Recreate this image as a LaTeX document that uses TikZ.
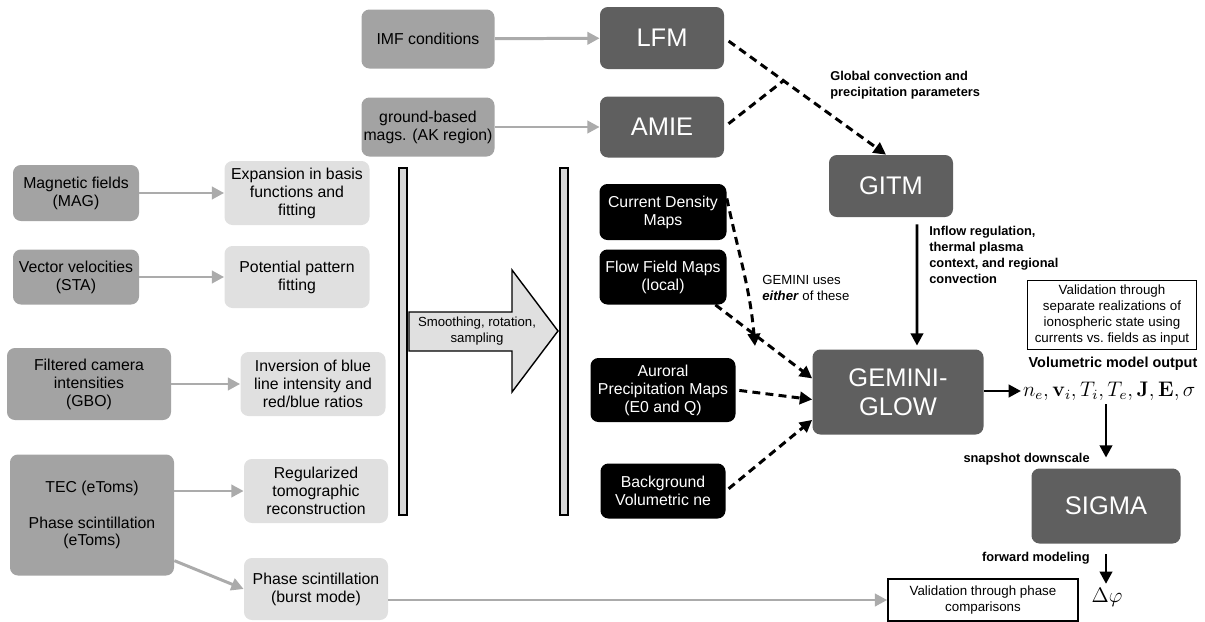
\documentclass[tikz,border=0pt]{standalone}
\usepackage[no-math]{fontspec}
\setmainfont{Liberation Sans}
\usepackage{amsmath}
\usepackage{tikz}
\usetikzlibrary{arrows.meta, calc, positioning}

\definecolor{srcgray}{HTML}{A3A3A3}
\definecolor{procgray}{HTML}{E0E0E0}
\definecolor{modelgray}{HTML}{5F5F5F}
\definecolor{linegray}{HTML}{ABABAB}
\definecolor{bargray}{HTML}{D8D8D8}

\tikzset{
  box/.style={rounded corners=4.5pt, align=center, inner sep=1pt},
  wh/.style 2 args={minimum width=#1*0.02cm, minimum height=#2*0.02cm},
  src/.style={box, fill=srcgray, font=\fontsize{9}{10.2}\selectfont},
  proc/.style={box, fill=procgray, font=\fontsize{9}{10.2}\selectfont},
  model/.style={box, fill=modelgray, text=white, font=\fontsize{14.5}{16.5}\selectfont},
  mapbox/.style={box, fill=black, text=white, font=\fontsize{9}{10.2}\selectfont},
  valbox/.style={draw, line width=0.9pt, align=center, inner sep=1pt, font=\fontsize{7.6}{9}\selectfont},
  bar/.style={draw, fill=bargray, line width=0.8pt, inner sep=0pt},
  lbl/.style={align=left, inner sep=0pt, font=\bfseries\fontsize{7.3}{9}\selectfont},
  grayarrow/.style={draw=linegray, line width=1.7pt, -{Triangle[length=7pt,width=7pt]}},
  dasharrow/.style={line width=1.7pt, dash pattern=on 4.5pt off 3pt, -{Triangle[length=7pt,width=7pt]}},
  blackarrow/.style={line width=1.7pt, -{Triangle[length=7pt,width=7pt]}}
}

\begin{document}
\begin{tikzpicture}[x=0.02cm, y=-0.02cm]
\useasboundingbox (0,0) rectangle (1205,622);

% instruments and processing
\node[src, wh={126}{56}] (MAG) at (76,193) {Magnetic fields\\(MAG)};
\node[proc, wh={145}{64}] (Exp) at (297,193) {Expansion in basis\\functions and\\fitting};
\node[src, wh={126}{55}] (STA) at (76,277) {Vector velocities\\(STA)};
\node[proc, wh={145}{62}] (Pot) at (297,277) {Potential pattern\\fitting};
\node[src, wh={164}{72}] (GBO) at (89,384) {Filtered camera\\intensities\\(GBO)};
\node[proc, wh={145}{64}] (Inv) at (313,384) {Inversion of blue\\line intensity and\\red/blue ratios};
\node[src, wh={164}{121}] (TEC) at (92,515) {TEC (eToms)\\[10.2pt]Phase scintillation\\(eToms)};
\node[proc, wh={144}{64}] (Reg) at (316,491) {Regularized\\tomographic\\reconstruction};
\node[proc, wh={144}{62}] (Burst) at (316,589) {Phase scintillation\\(burst mode)};
\node[src, wh={133}{59}] (IMF) at (428,39) {IMF conditions};
\node[src, wh={133}{59}] (Ground) at (428,127) {ground-based\\mags. (AK region)};

% models
\node[model, wh={124}{62}] (LFM) at (662,38) {LFM};
\node[model, wh={124}{61}] (AMIE) at (662,127) {AMIE};
\node[model, wh={124}{62}] (GITM) at (891,186) {GITM};
\node[model, wh={171}{85}] (GEMINI) at (898,392) {GEMINI-\\GLOW};
\node[model, wh={149}{75}] (SIGMA) at (1106,506) {SIGMA};

% maps
\node[mapbox, wh={127}{56}] (Current) at (663,212) {Current Density\\Maps};
\node[mapbox, wh={127}{55}] (Flow) at (663,277) {Flow Field Maps\\(local)};
\node[mapbox, wh={145}{64}] (Auroral) at (663,390) {Auroral\\Precipitation Maps\\(E0 and Q)};
\node[mapbox, wh={125}{55}] (Background) at (663,491) {Background\\Volumetric ne};

% bars and the wide arrow
\node[bar, wh={8}{347}] (BarL) at (403,341.5) {};
\node[bar, wh={8}{347}] (BarR) at (564,341.5) {};
\draw[fill=procgray, line width=0.8pt, line join=miter]
  (409,312) -- (512,312) -- (512,270) -- (558,331) -- (512,392) -- (512,351) -- (409,351) -- cycle;
\node[align=center, font=\fontsize{7.5}{9}\selectfont] (Smooth) at (477,331) {Smoothing, rotation,\\sampling};

% outputs
\node[valbox, wh={169}{69}] (ValState) at (1112,315) {Validation through\\separate realizations of\\ionospheric state using\\currents vs.\ fields as input};
\node[font=\bfseries\fontsize{8.2}{10}\selectfont, inner sep=0pt] (VolOut) at (1113,364) {Volumetric model output};
\node[font=\fontsize{12}{14}\selectfont, inner sep=1pt, anchor=west] (Vars) at (1021,391)
  {$n_e, \mathbf{v}_i, T_i, T_e, \mathbf{J}, \mathbf{E}, \sigma$};
\node[font=\fontsize{13}{15}\selectfont, inner sep=1pt] (Phase) at (1107,597) {$\Delta\varphi$};
\node[valbox, wh={190}{42}] (ValPhase) at (983,600) {Validation through phase\\comparisons};

% labels
\node[lbl, anchor=west] (GlobLbl) at (830,85) {Global convection and\\precipitation parameters};
\node[lbl, anchor=west] (InflowLbl) at (929,255) {Inflow regulation,\\thermal plasma\\context, and regional\\convection};
\node[align=left, inner sep=0pt, anchor=west, font=\fontsize{7.5}{9.2}\selectfont] (EitherLbl) at (762,288)
  {GEMINI uses\\\textbf{\textit{either}} of these};
\node[lbl, anchor=east] (SnapLbl) at (1090,459) {snapshot downscale};
\node[lbl, anchor=east] (FwdLbl) at (1090,558) {forward modeling};

% gray connectors
\foreach \a/\b in {MAG/Exp, STA/Pot, GBO/Inv, IMF/LFM, Ground/AMIE}
  \draw[grayarrow] (\a) -- (\b);
\draw[grayarrow] (TEC.east |- Reg.west) -- (Reg.west);
\draw[grayarrow] (TEC.-29) -- (Burst.west);
\draw[grayarrow] (Burst.east |- ValPhase.west) -- (ValPhase.west);

% dashed connectors
\coordinate (Join) at ($(LFM.east)!0.36!(GITM.north)$);
\coordinate (Either) at (755,346);
\draw[dasharrow, shorten <=3pt] (LFM.east) -- ([xshift=-0.1cm]GITM.north);
\draw[line width=1.7pt, dash pattern=on 4.5pt off 3pt, shorten <=3pt] (AMIE.east) -- (Join);
\draw[dasharrow] (Current.12) to[out=-78, in=95] (Either);
\draw[dasharrow] (Flow.-28) -- (GEMINI.171);
\draw[dasharrow, shorten <=2pt] (Auroral.east) -- (GEMINI.185);
\draw[dasharrow, shorten <=2pt] (Background.east) -- (GEMINI.198);

% solid connectors
\draw[blackarrow, shorten <=4pt, shorten >=2pt] ([xshift=0.52cm]GITM.south) -- ([xshift=0.38cm]GEMINI.north);
\draw[blackarrow] (GEMINI.east |- Vars.west) -- (Vars.west);
\draw[blackarrow, shorten <=1pt, shorten >=6pt] (Vars.south -| SIGMA.north) -- (SIGMA.north);
\draw[blackarrow, shorten <=6pt, shorten >=1pt] (SIGMA.south) -- (SIGMA.south |- Phase.north);
\end{tikzpicture}
\end{document}
